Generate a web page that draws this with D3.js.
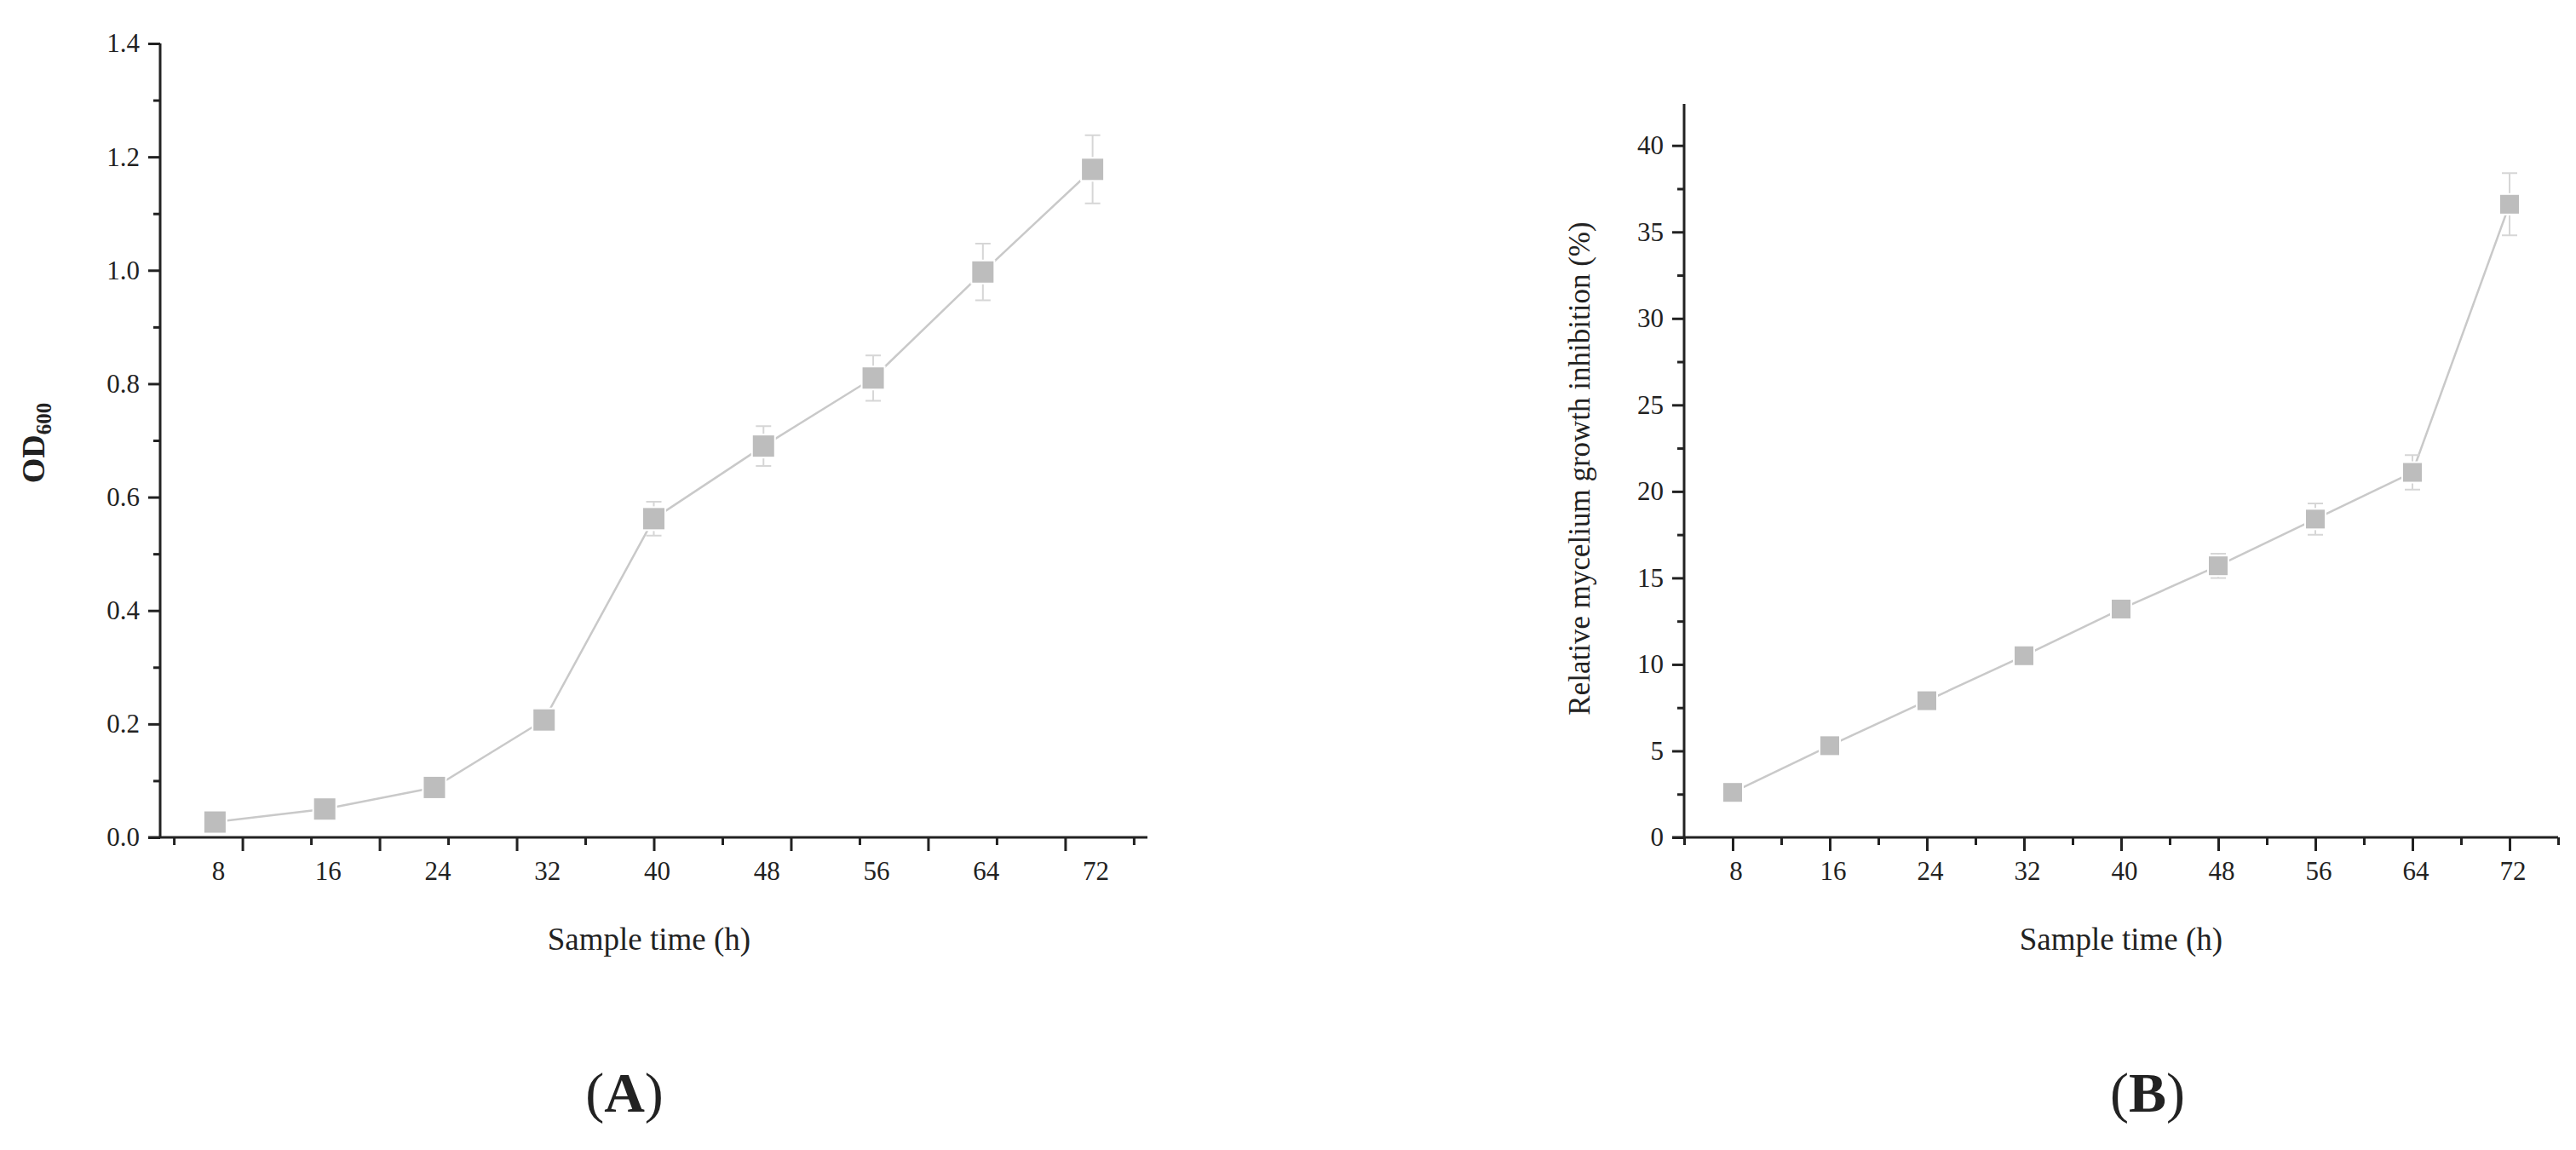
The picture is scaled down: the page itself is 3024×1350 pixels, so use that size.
<!DOCTYPE html>
<html>
<head>
<meta charset="utf-8">
<script src="https://cdn.jsdelivr.net/npm/d3@7"></script>
<style>
  body { margin: 0; background: #fff; }
  text { font-family: "Liberation Serif", "DejaVu Serif", serif; fill: #222; }
</style>
</head>
<body>
<svg id="chart" width="3024" height="1350"></svg>
<script>
// sample times (h)
var times = [8, 16, 24, 32, 40, 48, 56, 64, 72];
// panel A: OD600
var odMean = [0.027, 0.05, 0.088, 0.207, 0.562, 0.69, 0.81, 0.997, 1.178];
var odErr  = [0.01, 0.01, 0.012, 0.012, 0.03, 0.035, 0.04, 0.05, 0.06];
var odTicks = [0, 0.2, 0.4, 0.6, 0.8, 1.0, 1.2, 1.4];
// panel B: relative mycelium growth inhibition (%)
var inhMean = [2.6, 5.3, 7.9, 10.5, 13.2, 15.7, 18.4, 21.1, 36.6];
var inhErr  = [0.3, 0.3, 0.3, 0.3, 0.5, 0.7, 0.9, 1.0, 1.8];
var inhTicks = [0, 5, 10, 15, 20, 25, 30, 35, 40];

var svg = d3.select("#chart");
var markC = "#bdbdbd", lineC = "#c9c9c9", errC = "#d6d6d6";

function panel(opt)
{
    var g = svg.append("g");
    var x = d3.scaleLinear().domain([4, 76]).range([opt.left, opt.right]),
        y = d3.scaleLinear().domain(opt.ydom).range([opt.bottom, opt.top]);

    // y axis: major labelled + minor ticks
    var yax = g.append("g").attr("transform", "translate(" + opt.left + ",0)")
      .call(d3.axisLeft(y).tickValues(opt.yticks).tickSize(14).tickPadding(10).tickFormat(opt.yfmt));
    g.append("g").attr("transform", "translate(" + opt.left + ",0)")
      .call(d3.axisLeft(y).tickValues(opt.yminor).tickSize(8).tickFormat(""))
      .select(".domain").remove();
    yax.select(".domain").attr("d", "M0," + opt.bottom + "V" + y(opt.ydom[1]));

    // x axis
    var xax = g.append("g").attr("transform", "translate(0," + opt.bottom + ")")
      .call(d3.axisBottom(x).tickValues(opt.xmajor).tickSize(16).tickFormat(""));
    xax.select(".domain").attr("d", "M" + (opt.left - 14) + ",0H" + opt.right);
    g.append("g").attr("transform", "translate(0," + opt.bottom + ")")
      .call(d3.axisBottom(x).tickValues(opt.xminor).tickSize(9).tickFormat(""))
      .select(".domain").remove();
    g.selectAll(".tick line, .domain").attr("stroke", "#222").attr("stroke-width", 3);
    g.selectAll(".tick text").attr("font-size", 31).attr("fill", "#222");

    g.selectAll(".xlab").data(times).enter().append("text")
      .attr("x", function(d) { return x(d) + 4; })
      .attr("y", opt.bottom + 50)
      .attr("text-anchor", "middle").attr("font-size", 31)
      .text(function(d) { return d; });

    // line
    g.append("path")
      .datum(times.map(function(t, i) { return [t, opt.mean[i]]; }))
      .attr("fill", "none").attr("stroke", lineC).attr("stroke-width", 2.5)
      .attr("d", d3.line().x(function(d) { return x(d[0]); }).y(function(d) { return y(d[1]); }));

    // error bars
    times.forEach(function(t, i) {
      var cx = x(t), y1 = y(opt.mean[i] + opt.err[i]), y2 = y(opt.mean[i] - opt.err[i]);
      g.append("path").attr("fill", "none").attr("stroke", errC).attr("stroke-width", 2)
        .attr("d", "M" + cx + "," + y1 + "V" + y2 + "M" + (cx - 9) + "," + y1 + "H" + (cx + 9) +
                   "M" + (cx - 9) + "," + y2 + "H" + (cx + 9));
    });

    // markers
    var s = opt.ms;
    g.selectAll(".pt").data(times).enter().append("rect")
      .attr("x", function(d) { return x(d) - s / 2; })
      .attr("y", function(d, i) { return y(opt.mean[i]) - s / 2; })
      .attr("width", s).attr("height", s)
      .attr("fill", markC).attr("stroke", "#fff").attr("stroke-width", 4).attr("paint-order", "stroke");

    g.append("text").attr("x", opt.xlx).attr("y", opt.bottom + 132)
      .attr("text-anchor", "middle").attr("font-size", 37).text("Sample time (h)");
    return g;
}

var gA = panel({
    left: 188, right: 1347, top: 51, bottom: 983,
    ydom: [0, 1.4], yticks: odTicks, yminor: d3.range(0.1, 1.4, 0.2),
    yfmt: d3.format(".1f"),
    xmajor: [10, 20, 30, 40, 50, 60, 70], xminor: [5, 15, 25, 35, 45, 55, 65, 75],
    mean: odMean, err: odErr, ms: 25, xlx: 762
});
var yl = gA.append("text").attr("transform", "translate(52,520) rotate(-90)")
    .attr("text-anchor", "middle").attr("font-size", 38).attr("font-weight", "bold");
yl.append("tspan").text("OD");
yl.append("tspan").attr("font-size", 25).attr("dy", 8).text("600");

var gB = panel({
    left: 1977, right: 3003, top: 122, bottom: 983,
    ydom: [0, 42.4], yticks: inhTicks, yminor: d3.range(2.5, 42.4, 5),
    yfmt: d3.format("d"),
    xmajor: [8, 16, 24, 32, 40, 48, 56, 64, 72], xminor: [4, 12, 20, 28, 36, 44, 52, 60, 68, 76],
    mean: inhMean, err: inhErr, ms: 22, xlx: 2490
});
gB.append("text").attr("transform", "translate(1866,550) rotate(-90)")
    .attr("text-anchor", "middle").attr("font-size", 35)
    .text("Relative mycelium growth inhibition (%)");

// panel letters
[["A", 733], ["B", 2521]].forEach(function(p) {
  var t = svg.append("text").attr("x", p[1]).attr("y", 1305)
    .attr("text-anchor", "middle").attr("font-size", 66);
  t.append("tspan").text("(");
  t.append("tspan").attr("font-weight", "bold").text(p[0]);
  t.append("tspan").text(")");
});
</script>
</body>
</html>
